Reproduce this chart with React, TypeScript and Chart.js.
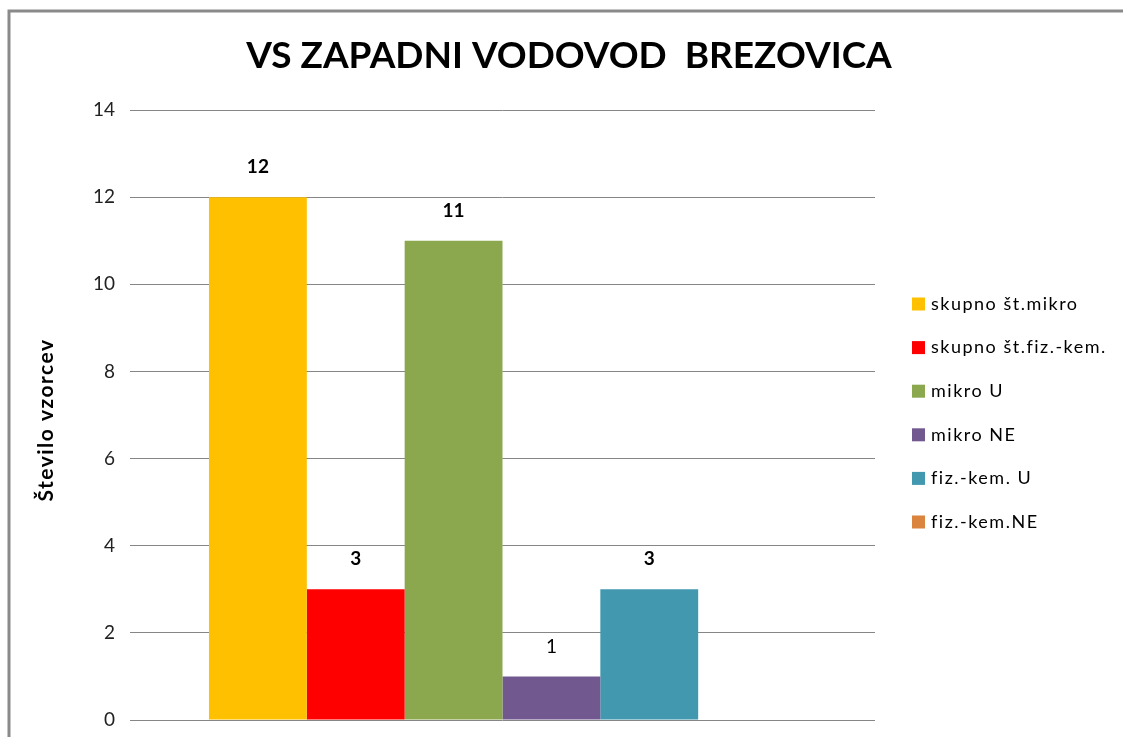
import React, { useEffect, useRef } from "react";
import { Chart, registerables } from "chart.js";

Chart.register(...registerables);

const titleText = "VS ZAPADNI VODOVOD  BREZOVICA";
const yAxisTitle = "Število vzorcev";
const categories = [""];
const seriesLabels = [
  "skupno št.mikro",
  "skupno št.fiz.-kem.",
  "mikro U",
  "mikro NE",
  "fiz.-kem. U",
  "fiz.-kem.NE",
];
const seriesValues = [12, 3, 11, 1, 3, 0];
const seriesColors = ["#FFC000", "#FF0000", "#8BA84F", "#71588F", "#4198AF", "#DB843D"];
const labelBold = [true, true, true, false, true, true];

const FONT = "Lato, 'Open Sans', sans-serif";

const framePlugin = {
  id: "frame",
  beforeDraw(chart: any) {
    const ctx = chart.ctx;
    ctx.save();
    ctx.fillStyle = "#ffffff";
    ctx.fillRect(0, 0, chart.width, chart.height);
    ctx.strokeStyle = "#8a8a8a";
    ctx.lineWidth = 3;
    ctx.strokeRect(9, 11, chart.width + 20, chart.height + 20);
    ctx.restore();
  },
};

const overlayPlugin = {
  id: "overlay",
  afterDatasetsDraw(chart: any) {
    const ctx = chart.ctx;
    ctx.save();
    // data labels
    chart.data.datasets.forEach((ds: any, i: number) => {
      const meta = chart.getDatasetMeta(i);
      meta.data.forEach((bar: any, j: number) => {
        const v = ds.data[j];
        if (!v) return;
        ctx.font = `${labelBold[i] ? "bold " : ""}19px ${FONT}`;
        ctx.fillStyle = "#000";
        ctx.textAlign = "center";
        ctx.textBaseline = "middle";
        ctx.fillText(String(v), bar.x, bar.y - 30);
      });
    });
    // title
    ctx.font = `bold 37px ${FONT}`;
    ctx.fillStyle = "#000";
    ctx.textAlign = "center";
    ctx.textBaseline = "middle";
    ctx.fillText(titleText, 569, 56);
    // y axis title
    ctx.save();
    ctx.translate(46, 420);
    ctx.rotate(-Math.PI / 2);
    ctx.font = `bold 21px ${FONT}`;
    (ctx as any).letterSpacing = "1.5px";
    ctx.fillStyle = "#000";
    ctx.textAlign = "center";
    ctx.textBaseline = "middle";
    ctx.fillText(yAxisTitle, 0, 0);
    ctx.restore();
    // legend
    const startY = 304;
    const step = 43.6;
    chart.data.datasets.forEach((ds: any, i: number) => {
      const y = startY + i * step;
      ctx.fillStyle = ds.backgroundColor;
      ctx.fillRect(912, y - 6.5, 13, 13);
      ctx.fillStyle = "#000";
      ctx.font = `18px ${FONT}`;
      (ctx as any).letterSpacing = "1.5px";
      ctx.textAlign = "left";
      ctx.textBaseline = "middle";
      ctx.fillText(ds.label, 931, y);
    });
    ctx.restore();
  },
};

export default function App() {
  const ref = useRef<HTMLCanvasElement>(null);
  useEffect(() => {
    if (!ref.current) return;
    const chart = new Chart(ref.current, {
      type: "bar",
      data: {
        labels: categories,
        datasets: seriesLabels.map((label, i) => ({
          label,
          data: [seriesValues[i]],
          backgroundColor: seriesColors[i],
          borderWidth: 0,
          categoryPercentage: 0.788,
          barPercentage: 1,
        })),
      },
      options: {
        responsive: false,
        animation: false,
        layout: { padding: { top: 110, right: 248, bottom: 17, left: 8 } },
        plugins: {
          legend: { display: false },
          title: { display: false },
          tooltip: { enabled: false },
        },
        scales: {
          x: { display: false },
          y: {
            min: 0,
            max: 14,
            ticks: {
              stepSize: 2,
              padding: 15,
              color: "#222",
              font: { family: FONT, size: 19 },
            },
            grid: { color: "#868686", lineWidth: 1, drawTicks: false },
            border: { display: false },
            title: { display: false },
            afterFit(scale: any) {
              scale.width = 122;
              scale.paddingTop = 0;
              scale.paddingBottom = 0;
            },
          },
        },
      },
      plugins: [framePlugin, overlayPlugin],
    });
    return () => chart.destroy();
  }, []);
  return (
    <div style={{ position: "absolute", left: 0, top: 0, width: 1123, height: 737 }}>
      <canvas ref={ref} width={1123} height={737} style={{ display: "block" }} />
    </div>
  );
}
